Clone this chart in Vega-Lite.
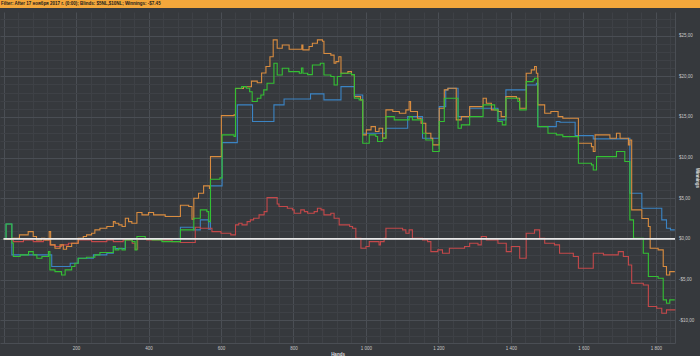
{
  "$schema": "https://vega.github.io/schema/vega-lite/v6.json",
  "background": "#36393d",
  "padding": 0,
  "spacing": 4,
  "config": {"view": {"stroke": null}, "font": "Liberation Sans"},
  "vconcat": [
    {
      "width": 700,
      "height": 8,
      "view": {"fill": "#f3a73b", "stroke": null},
      "data": {"values": [{"t": "Filter: After 17 ноября 2017 г. (0:00); Blinds: $5NL,$10NL; Winnings: -$7.45"}]},
      "mark": {"type": "text", "align": "left", "baseline": "middle", "fontSize": 4.5, "fontWeight": "bold", "color": "#1b1b1b", "dx": 1},
      "encoding": {
        "text": {"field": "t"},
        "x": {"datum": 0, "type": "quantitative", "scale": {"domain": [0, 1]}, "axis": null},
        "y": {"datum": 0.5, "type": "quantitative", "scale": {"domain": [0, 1]}, "axis": null}
      }
    },
    {
      "width": 675,
      "height": 331,
      "resolve": {"axis": {"x": "independent", "y": "independent"}},
      "layer": [
        {
          "data": {"values": [{}]},
          "mark": {"type": "point", "opacity": 0},
          "encoding": {
            "x": {"datum": 0, "type": "quantitative",
              "axis": {"orient": "bottom", "values": [40,80,120,160,240,280,320,360,440,480,520,560,640,680,720,760,840,880,920,960,1040,1080,1120,1160,1240,1280,1320,1360,1440,1480,1520,1560,1640,1680,1720,1760,1840],
                "grid": true, "gridColor": "#3e4146", "gridWidth": 1, "labels": false, "ticks": false, "domain": false, "title": null}},
            "y": {"datum": 0, "type": "quantitative",
              "axis": {"orient": "right", "values": [-12,-11,-9,-8,-7,-6,-4,-3,-2,-1,1,2,3,4,6,7,8,9,11,12,13,14,16,17,18,19,21,22,23,24,26,27],
                "grid": true, "gridColor": "#3e4146", "gridWidth": 1, "labels": false, "ticks": false, "domain": false, "title": null}}
          }
        },
        {
          "data": {"values": [
            {"s":"b","h":1,"v":0},{"s":"b","h":7,"v":1.84},{"s":"b","h":23,"v":-1.97},{"s":"b","h":133,"v":-3.4},{"s":"b","h":184,"v":-2.99},{"s":"b","h":206,"v":-2.38},{"s":"b","h":248,"v":-1.97},{"s":"b","h":285,"v":-1.76},{"s":"b","h":303,"v":-0.94},{"s":"b","h":308,"v":-1.2},{"s":"b","h":336,"v":0},{"s":"b","h":488,"v":1.43},{"s":"b","h":525,"v":1.11},{"s":"b","h":543,"v":2.34},{"s":"b","h":566,"v":1.2},{"s":"b","h":571,"v":6.52},{"s":"b","h":603,"v":11.84},{"s":"b","h":645,"v":16.48},{"s":"b","h":687,"v":14.43},{"s":"b","h":746,"v":16.48},{"s":"b","h":774,"v":17.21},{"s":"b","h":847,"v":17.83},{"s":"b","h":884,"v":17.09},{"s":"b","h":931,"v":18.73},{"s":"b","h":968,"v":17.7},{"s":"b","h":991,"v":12.99},{"s":"b","h":1055,"v":13.61},{"s":"b","h":1115,"v":15.04},{"s":"b","h":1156,"v":12.38},{"s":"b","h":1202,"v":16.27},{"s":"b","h":1220,"v":18.32},{"s":"b","h":1226,"v":18.52},{"s":"b","h":1254,"v":15.04},{"s":"b","h":1286,"v":16.07},{"s":"b","h":1364,"v":14.63},{"s":"b","h":1386,"v":18.32},{"s":"b","h":1442,"v":18.93},{"s":"b","h":1470,"v":19.14},{"s":"b","h":1474,"v":13.81},{"s":"b","h":1525,"v":14.43},{"s":"b","h":1535,"v":14.34},{"s":"b","h":1577,"v":12.7},{"s":"b","h":1627,"v":12.3},{"s":"b","h":1724,"v":12.38},{"s":"b","h":1728,"v":5.61},{"s":"b","h":1761,"v":3.77},{"s":"b","h":1816,"v":2.34},{"s":"b","h":1829,"v":1.31},{"s":"b","h":1840,"v":1.11},{"s":"b","h":1852,"v":1.11},

            {"s":"r","h":1,"v":0},{"s":"r","h":23,"v":-0.12},{"s":"r","h":27,"v":-0.33},{"s":"r","h":55,"v":-0.12},{"s":"r","h":82,"v":-0.33},{"s":"r","h":110,"v":-0.12},{"s":"r","h":128,"v":-0.74},{"s":"r","h":142,"v":-0.94},{"s":"r","h":160,"v":-0.74},{"s":"r","h":179,"v":-0.53},{"s":"r","h":206,"v":-0.12},{"s":"r","h":243,"v":-0.33},{"s":"r","h":285,"v":-0.12},{"s":"r","h":303,"v":-0.33},{"s":"r","h":330,"v":-0.12},{"s":"r","h":355,"v":-0.53},{"s":"r","h":363,"v":-1.27},{"s":"r","h":370,"v":0},{"s":"r","h":395,"v":-0.12},{"s":"r","h":465,"v":-0.33},{"s":"r","h":488,"v":-0.45},{"s":"r","h":529,"v":1.43},{"s":"r","h":543,"v":1.31},{"s":"r","h":575,"v":0.9},{"s":"r","h":600,"v":0.7},{"s":"r","h":627,"v":0.49},{"s":"r","h":640,"v":1.72},{"s":"r","h":649,"v":1.93},{"s":"r","h":658,"v":1.72},{"s":"r","h":672,"v":2.13},{"s":"r","h":681,"v":2.34},{"s":"r","h":690,"v":2.54},{"s":"r","h":705,"v":2.95},{"s":"r","h":719,"v":3.36},{"s":"r","h":727,"v":5.08},{"s":"r","h":755,"v":4.3},{"s":"r","h":760,"v":3.98},{"s":"r","h":783,"v":3.77},{"s":"r","h":797,"v":3.57},{"s":"r","h":802,"v":3.16},{"s":"r","h":820,"v":3.57},{"s":"r","h":830,"v":3.36},{"s":"r","h":839,"v":3.16},{"s":"r","h":857,"v":3.36},{"s":"r","h":866,"v":3.77},{"s":"r","h":876,"v":3.57},{"s":"r","h":884,"v":2.95},{"s":"r","h":903,"v":3.16},{"s":"r","h":912,"v":2.54},{"s":"r","h":926,"v":1.72},{"s":"r","h":955,"v":1.52},{"s":"r","h":963,"v":1.31},{"s":"r","h":972,"v":0.08},{"s":"r","h":986,"v":-1.15},{"s":"r","h":1000,"v":-0.94},{"s":"r","h":1009,"v":-0.33},{"s":"r","h":1036,"v":-0.74},{"s":"r","h":1040,"v":-0.33},{"s":"r","h":1050,"v":0.08},{"s":"r","h":1055,"v":1.31},{"s":"r","h":1101,"v":1.11},{"s":"r","h":1110,"v":0.7},{"s":"r","h":1119,"v":1.11},{"s":"r","h":1128,"v":0.08},{"s":"r","h":1156,"v":-0.12},{"s":"r","h":1170,"v":-0.33},{"s":"r","h":1179,"v":-1.56},{"s":"r","h":1198,"v":-1.35},{"s":"r","h":1211,"v":-1.76},{"s":"r","h":1230,"v":-1.15},{"s":"r","h":1272,"v":-0.94},{"s":"r","h":1286,"v":-0.53},{"s":"r","h":1309,"v":-0.74},{"s":"r","h":1318,"v":0.29},{"s":"r","h":1332,"v":-0.12},{"s":"r","h":1364,"v":-0.53},{"s":"r","h":1387,"v":-1.56},{"s":"r","h":1401,"v":-0.94},{"s":"r","h":1424,"v":-2.38},{"s":"r","h":1442,"v":0.7},{"s":"r","h":1465,"v":1.11},{"s":"r","h":1479,"v":0.08},{"s":"r","h":1493,"v":-0.53},{"s":"r","h":1520,"v":-0.74},{"s":"r","h":1534,"v":-1.76},{"s":"r","h":1572,"v":-2.17},{"s":"r","h":1586,"v":-3.61},{"s":"r","h":1627,"v":-1.76},{"s":"r","h":1655,"v":-1.97},{"s":"r","h":1696,"v":-1.56},{"s":"r","h":1710,"v":-2.17},{"s":"r","h":1724,"v":-3.2},{"s":"r","h":1733,"v":-5.45},{"s":"r","h":1765,"v":-5.66},{"s":"r","h":1779,"v":-8.32},{"s":"r","h":1802,"v":-8.52},{"s":"r","h":1816,"v":-9.14},{"s":"r","h":1829,"v":-8.73},{"s":"r","h":1852,"v":-8.65},

            {"s":"o","h":1,"v":0},{"s":"o","h":22,"v":0.08},{"s":"o","h":44,"v":0.49},{"s":"o","h":68,"v":0.9},{"s":"o","h":82,"v":0.29},{"s":"o","h":91,"v":-0.12},{"s":"o","h":105,"v":0.08},{"s":"o","h":114,"v":-0.12},{"s":"o","h":126,"v":0.9},{"s":"o","h":130,"v":-0.74},{"s":"o","h":142,"v":-1.15},{"s":"o","h":156,"v":-0.74},{"s":"o","h":165,"v":-1.27},{"s":"o","h":174,"v":-0.94},{"s":"o","h":188,"v":-0.53},{"s":"o","h":206,"v":0.08},{"s":"o","h":220,"v":0.29},{"s":"o","h":229,"v":0.49},{"s":"o","h":243,"v":0.7},{"s":"o","h":252,"v":1.11},{"s":"o","h":266,"v":1.31},{"s":"o","h":285,"v":1.52},{"s":"o","h":303,"v":2.13},{"s":"o","h":308,"v":1.93},{"s":"o","h":318,"v":1.72},{"s":"o","h":327,"v":1.52},{"s":"o","h":336,"v":2.54},{"s":"o","h":345,"v":2.13},{"s":"o","h":354,"v":1.93},{"s":"o","h":368,"v":3.24},{"s":"o","h":382,"v":2.95},{"s":"o","h":400,"v":3.24},{"s":"o","h":414,"v":2.95},{"s":"o","h":446,"v":2.75},{"s":"o","h":488,"v":4.14},{"s":"o","h":511,"v":3.98},{"s":"o","h":520,"v":2.42},{"s":"o","h":525,"v":5.0},{"s":"o","h":538,"v":5.61},{"s":"o","h":552,"v":6.52},{"s":"o","h":568,"v":6.2},{"s":"o","h":571,"v":10.12},{"s":"o","h":601,"v":15.16},{"s":"o","h":636,"v":15.25},{"s":"o","h":640,"v":18.5},{"s":"o","h":662,"v":18.7},{"s":"o","h":684,"v":19.4},{"s":"o","h":700,"v":19.2},{"s":"o","h":712,"v":20.4},{"s":"o","h":724,"v":21.2},{"s":"o","h":735,"v":22.4},{"s":"o","h":744,"v":24.47},{"s":"o","h":755,"v":23.44},{"s":"o","h":769,"v":23.85},{"s":"o","h":788,"v":23.32},{"s":"o","h":823,"v":23.85},{"s":"o","h":826,"v":23.24},{"s":"o","h":843,"v":23.65},{"s":"o","h":852,"v":24.06},{"s":"o","h":866,"v":24.47},{"s":"o","h":880,"v":24.3},{"s":"o","h":884,"v":22.8},{"s":"o","h":903,"v":22.6},{"s":"o","h":912,"v":21.6},{"s":"o","h":917,"v":21.8},{"s":"o","h":925,"v":22.4},{"s":"o","h":931,"v":20.37},{"s":"o","h":950,"v":20.57},{"s":"o","h":960,"v":20.2},{"s":"o","h":968,"v":17.5},{"s":"o","h":985,"v":17.1},{"s":"o","h":991,"v":12.79},{"s":"o","h":1001,"v":13.4},{"s":"o","h":1014,"v":13.81},{"s":"o","h":1026,"v":13.2},{"s":"o","h":1036,"v":13.61},{"s":"o","h":1046,"v":12.38},{"s":"o","h":1055,"v":15.86},{"s":"o","h":1074,"v":15.66},{"s":"o","h":1092,"v":15.45},{"s":"o","h":1110,"v":15.86},{"s":"o","h":1119,"v":16.89},{"s":"o","h":1123,"v":15.66},{"s":"o","h":1142,"v":14.84},{"s":"o","h":1152,"v":14.22},{"s":"o","h":1165,"v":13.0},{"s":"o","h":1179,"v":12.38},{"s":"o","h":1184,"v":11.56},{"s":"o","h":1202,"v":16.07},{"s":"o","h":1216,"v":18.32},{"s":"o","h":1226,"v":18.52},{"s":"o","h":1249,"v":14.63},{"s":"o","h":1263,"v":15.04},{"s":"o","h":1286,"v":16.27},{"s":"o","h":1323,"v":17.3},{"s":"o","h":1332,"v":16.68},{"s":"o","h":1346,"v":15.86},{"s":"o","h":1364,"v":15.66},{"s":"o","h":1373,"v":15.04},{"s":"o","h":1386,"v":17.5},{"s":"o","h":1415,"v":17.3},{"s":"o","h":1424,"v":16.07},{"s":"o","h":1442,"v":20.37},{"s":"o","h":1456,"v":20.78},{"s":"o","h":1465,"v":21.19},{"s":"o","h":1470,"v":20.37},{"s":"o","h":1474,"v":16.48},{"s":"o","h":1493,"v":15.45},{"s":"o","h":1510,"v":15.66},{"s":"o","h":1530,"v":15.04},{"s":"o","h":1543,"v":14.84},{"s":"o","h":1581,"v":14.84},{"s":"o","h":1586,"v":11.76},{"s":"o","h":1622,"v":11.35},{"s":"o","h":1627,"v":10.74},{"s":"o","h":1632,"v":12.79},{"s":"o","h":1673,"v":12.38},{"s":"o","h":1691,"v":12.99},{"s":"o","h":1701,"v":12.38},{"s":"o","h":1724,"v":11.56},{"s":"o","h":1728,"v":12.17},{"s":"o","h":1733,"v":3.57},{"s":"o","h":1761,"v":2.5},{"s":"o","h":1779,"v":1.52},{"s":"o","h":1784,"v":-1.15},{"s":"o","h":1806,"v":-1.35},{"s":"o","h":1820,"v":-3.4},{"s":"o","h":1829,"v":-4.43},{"s":"o","h":1838,"v":-4.02},{"s":"o","h":1852,"v":-4.02},

            {"s":"g","h":1,"v":0},{"s":"g","h":7,"v":1.84},{"s":"g","h":23,"v":-0.5},{"s":"g","h":27,"v":-2.17},{"s":"g","h":46,"v":-1.97},{"s":"g","h":69,"v":-1.56},{"s":"g","h":82,"v":-1.97},{"s":"g","h":92,"v":-2.38},{"s":"g","h":106,"v":-2.17},{"s":"g","h":124,"v":-1.56},{"s":"g","h":128,"v":-3.81},{"s":"g","h":142,"v":-4.02},{"s":"g","h":160,"v":-4.43},{"s":"g","h":170,"v":-3.81},{"s":"g","h":188,"v":-3.4},{"s":"g","h":197,"v":-3.0},{"s":"g","h":206,"v":-2.38},{"s":"g","h":229,"v":-2.25},{"s":"g","h":252,"v":-1.97},{"s":"g","h":266,"v":-1.68},{"s":"g","h":303,"v":-0.94},{"s":"g","h":308,"v":-1.35},{"s":"g","h":318,"v":-1.15},{"s":"g","h":327,"v":-1.35},{"s":"g","h":336,"v":-0.12},{"s":"g","h":355,"v":-0.33},{"s":"g","h":363,"v":-1.35},{"s":"g","h":368,"v":0.29},{"s":"g","h":391,"v":0},{"s":"g","h":410,"v":-0.12},{"s":"g","h":437,"v":-0.33},{"s":"g","h":488,"v":1.11},{"s":"g","h":525,"v":2.54},{"s":"g","h":543,"v":3.57},{"s":"g","h":561,"v":3.36},{"s":"g","h":566,"v":2.13},{"s":"g","h":571,"v":7.34},{"s":"g","h":597,"v":7.5},{"s":"g","h":603,"v":12.79},{"s":"g","h":636,"v":12.6},{"s":"g","h":640,"v":18.52},{"s":"g","h":657,"v":18.73},{"s":"g","h":670,"v":18.52},{"s":"g","h":679,"v":18.1},{"s":"g","h":686,"v":16.89},{"s":"g","h":700,"v":17.3},{"s":"g","h":710,"v":17.7},{"s":"g","h":718,"v":18.32},{"s":"g","h":727,"v":19.14},{"s":"g","h":746,"v":21.6},{"s":"g","h":755,"v":20.16},{"s":"g","h":769,"v":20.98},{"s":"g","h":787,"v":20.57},{"s":"g","h":816,"v":20.37},{"s":"g","h":822,"v":21.0},{"s":"g","h":826,"v":20.37},{"s":"g","h":839,"v":20.2},{"s":"g","h":852,"v":21.39},{"s":"g","h":874,"v":21.6},{"s":"g","h":884,"v":20.16},{"s":"g","h":903,"v":19.96},{"s":"g","h":912,"v":18.93},{"s":"g","h":921,"v":19.96},{"s":"g","h":931,"v":20.37},{"s":"g","h":960,"v":20.2},{"s":"g","h":968,"v":17.3},{"s":"g","h":981,"v":17.09},{"s":"g","h":991,"v":11.76},{"s":"g","h":1009,"v":12.79},{"s":"g","h":1027,"v":12.6},{"s":"g","h":1032,"v":11.97},{"s":"g","h":1046,"v":12.4},{"s":"g","h":1055,"v":15.04},{"s":"g","h":1078,"v":14.63},{"s":"g","h":1119,"v":15.04},{"s":"g","h":1128,"v":14.63},{"s":"g","h":1156,"v":13.0},{"s":"g","h":1165,"v":12.17},{"s":"g","h":1184,"v":10.74},{"s":"g","h":1202,"v":14.43},{"s":"g","h":1216,"v":17.3},{"s":"g","h":1244,"v":17.3},{"s":"g","h":1254,"v":13.61},{"s":"g","h":1263,"v":14.02},{"s":"g","h":1286,"v":15.04},{"s":"g","h":1323,"v":16.48},{"s":"g","h":1355,"v":15.86},{"s":"g","h":1364,"v":14.43},{"s":"g","h":1376,"v":14.02},{"s":"g","h":1386,"v":17.3},{"s":"g","h":1419,"v":16.89},{"s":"g","h":1424,"v":15.86},{"s":"g","h":1442,"v":19.34},{"s":"g","h":1461,"v":19.55},{"s":"g","h":1465,"v":19.75},{"s":"g","h":1474,"v":13.81},{"s":"g","h":1502,"v":13.0},{"s":"g","h":1525,"v":12.79},{"s":"g","h":1543,"v":12.58},{"s":"g","h":1586,"v":9.3},{"s":"g","h":1622,"v":9.1},{"s":"g","h":1627,"v":8.48},{"s":"g","h":1636,"v":10.12},{"s":"g","h":1673,"v":10.12},{"s":"g","h":1691,"v":10.74},{"s":"g","h":1714,"v":9.51},{"s":"g","h":1728,"v":2.34},{"s":"g","h":1738,"v":0.08},{"s":"g","h":1765,"v":-1.76},{"s":"g","h":1779,"v":-4.63},{"s":"g","h":1806,"v":-4.84},{"s":"g","h":1820,"v":-7.5},{"s":"g","h":1829,"v":-7.91},{"s":"g","h":1838,"v":-7.5},{"s":"g","h":1852,"v":-7.5}
          ]},
          "mark": {"type": "line", "interpolate": "step-after", "strokeWidth": 1.1},
          "encoding": {
            "x": {
              "field": "h", "type": "quantitative",
              "scale": {"domain": [-9.7, 1852.5], "nice": false, "zero": false},
              "axis": {
                "orient": "bottom",
                "values": [0,200,400,600,800,1000,1200,1400,1600,1800],
                "grid": true,
                "gridColor": "#4a4e54",
                "gridWidth": 1,
                "ticks": false,
                "domain": true,
                "domainColor": "#4a4e54",
                "labelExpr": "datum.value > 0 ? replace(format(datum.value, ','), ',', ' ') : ''",
                "labelOverlap": false,
                "labelFlush": false,
                "labelFontSize": 4.5,
                "labelColor": "#c8c8c8",
                "labelPadding": 2,
                "title": "Hands",
                "titleFontSize": 4.5,
                "titleFontWeight": "bold",
                "titleColor": "#dddddd",
                "titlePadding": 2
              }
            },
            "y": {
              "field": "v", "type": "quantitative",
              "scale": {"domain": [-12.8, 27.9], "nice": false, "zero": false},
              "axis": {
                "orient": "right",
                "values": [-10,-5,0,5,10,15,20,25],
                "grid": true,
                "gridColor": "#4a4e54",
                "gridWidth": 1,
                "ticks": false,
                "domain": true,
                "domainColor": "#4a4e54",
                "labelExpr": "(datum.value < 0 ? '-' : '') + '$' + replace(format(abs(datum.value), '.2f'), '.', ',')",
                "labelOverlap": false,
                "labelFlush": false,
                "labelFontSize": 4.5,
                "labelColor": "#c8c8c8",
                "labelPadding": 3.5,
                "title": "Winnings",
                "titleFontSize": 4.5,
                "titleFontWeight": "bold",
                "titleColor": "#dddddd",
                "titlePadding": 1
              }
            },
            "color": {
              "field": "s", "type": "nominal",
              "scale": {"domain": ["b", "r", "o", "g"], "range": ["#3b84c4", "#c4484a", "#d98c3f", "#33c033"]},
              "legend": null
            }
          }
        },
        {
          "data": {"values": [{}]},
          "mark": {"type": "rule", "color": "#e8e8e8", "strokeWidth": 1.8},
          "encoding": {
            "y": {"datum": 0, "type": "quantitative", "axis": null},
            "x": {"datum": 0, "type": "quantitative", "axis": null},
            "x2": {"datum": 1852.5}
          }
        }
      ]
    }
  ]
}
